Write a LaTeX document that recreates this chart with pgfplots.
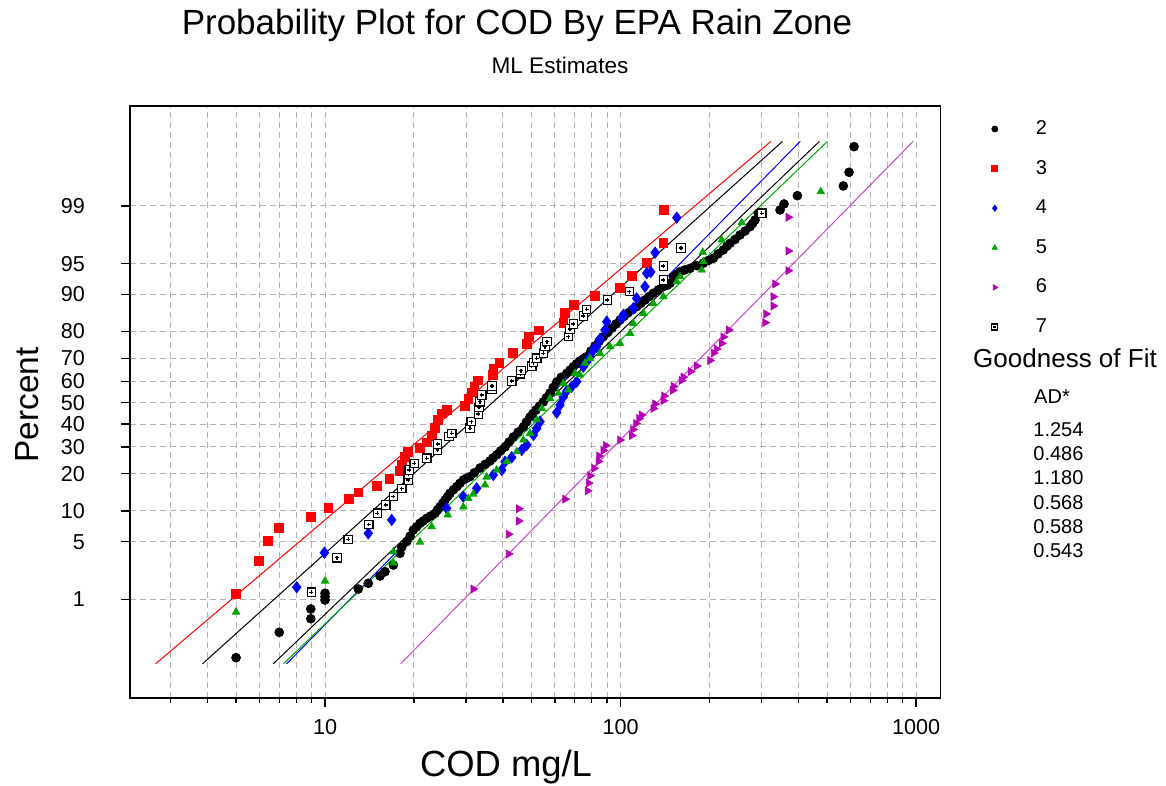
\documentclass[border=0pt]{standalone}
\usepackage{pgfplots}
\pgfplotsset{compat=1.18}
\usepackage{fontspec}
\setmainfont{Liberation Sans}
\usetikzlibrary{plotmarks}

\definecolor{zgreen}{RGB}{0,165,0}
\definecolor{zmag}{RGB}{180,0,180}
\definecolor{zmagl}{RGB}{200,70,200}
\definecolor{gridc}{RGB}{180,180,180}

\pgfdeclareplotmark{sqdot}{%
  \pgfpathrectangle{\pgfpoint{-\pgfplotmarksize}{-\pgfplotmarksize}}{\pgfpoint{2\pgfplotmarksize}{2\pgfplotmarksize}}%
  \pgfusepathqfillstroke
  \pgfpathmoveto{\pgfpoint{-0.45\pgfplotmarksize}{0pt}}\pgfpathlineto{\pgfpoint{0.45\pgfplotmarksize}{0pt}}%
  \pgfpathmoveto{\pgfpoint{0pt}{-0.45\pgfplotmarksize}}\pgfpathlineto{\pgfpoint{0pt}{0.45\pgfplotmarksize}}%
  \pgfusepathqstroke
}

\begin{document}
\begin{tikzpicture}
\path[use as bounding box] (0,0) rectangle (583pt,393pt);
\begin{axis}[
  at={(65pt,44pt)}, anchor=south west,
  scale only axis, width=405.35pt, height=296pt,
  xmode=log, xmin=2.188, xmax=1212,
  ymin=-3.494, ymax=3.509,
  xtick={10,100,1000}, xticklabels={10,100,1000},
  minor xtick={3,4,5,6,7,8,9,20,30,40,50,60,70,80,90,200,300,400,500,600,700,800,900},
  ytick={-2.3263,-1.6449,-1.2816,-0.8416,-0.5244,-0.2533,0,0.2533,0.5244,0.8416,1.2816,1.6449,2.3263},
  yticklabels={1,5,10,20,30,40,50,60,70,80,90,95,99},
  minor ytick={},
  tick align=outside, major tick length=4.5pt, minor tick length=2.5pt,
  xtick pos=bottom, ytick pos=left,
  xmajorgrids, xminorgrids, ymajorgrids,
  grid style={gridc, dash pattern=on 3pt off 2pt, line width=0.5pt},
  minor grid style={gridc, dash pattern=on 3pt off 2pt, line width=0.5pt},
  axis line style={black, line width=0.6pt},
  tick style={black, line width=0.6pt},
  /pgf/number format/assume math mode=true,
  tick label style={font=\fontsize{10.8}{12}\selectfont},
  yticklabel style={xshift=-14.5pt},
  xticklabel style={yshift=-2.5pt},
  clip=false,
  legend cell align=left,
  every legend image post/.append style={mark size=1.5pt},
  legend style={draw=none, fill=none, at={(1.063,0.9946)}, anchor=north west,
    inner sep=0pt, outer sep=0pt, row sep=0pt,
    font=\fontsize{10}{12}\selectfont,
    nodes={inner sep=0pt, minimum height=19.8pt},
    /tikz/every odd column/.append style={column sep=19pt}},
]
% Zone 2
\addplot[only marks, mark=*, mark size=2.2pt, mark options={draw=black, fill=black}] table {
x y
5.00 -3.017
7.0 -2.717
8.95 -2.556
8.95 -2.441
10.0 -2.335
10.0 -2.296
10.0 -2.255
12.96 -2.205
14.01 -2.137
15.35 -2.051
15.96 -2.000
17.03 -1.921
17.94 -1.782
18.18 -1.711
18.90 -1.645
19.4 -1.58
19.90 -1.507
20.4 -1.47
20.96 -1.427
21.5 -1.40
22.09 -1.368
22.8 -1.34
23.56 -1.309
24.0 -1.27
24.50 -1.231
25.0 -1.19
25.47 -1.152
26.0 -1.11
26.49 -1.072
27.2 -1.03
27.91 -0.994
28.6 -0.955
29.38 -0.915
30.1 -0.895
30.95 -0.876
32.0 -0.83
33.46 -0.773
34.8 -0.73
36.17 -0.690
37.0 -0.655
38.11 -0.619
39.3 -0.57
40.65 -0.525
42.0 -0.465
43.37 -0.406
45.0 -0.35
46.90 -0.288
48.0 -0.23
49.40 -0.170
50.5 -0.13
51.76 -0.087
53.2 -0.04
54.81 0.008
56.2 0.06
57.74 0.114
59.2 0.18
60.83 0.244
63.0 0.30
65.74 0.347
67.5 0.385
69.22 0.425
71.0 0.46
72.92 0.493
74.8 0.52
76.83 0.544
79.4 0.61
81.97 0.670
84.6 0.725
87.45 0.780
90.5 0.83
93.59 0.883
96.5 0.93
99.6 0.978
102.7 1.02
106.0 1.061
109.6 1.10
113.4 1.135
117.2 1.175
121.0 1.214
125.0 1.255
129.1 1.294
134.3 1.335
139.6 1.372
144.0 1.39
147.1 1.412
150.9 1.490
155.0 1.52
159.0 1.549
165.0 1.57
171.9 1.589
181.0 1.62
190.6 1.649
198.0 1.68
206.1 1.708
214.0 1.76
222.8 1.806
229.0 1.85
234.8 1.885
244.0 1.93
253.7 1.983
264.0 2.03
274.4 2.082
280.0 2.12
285.3 2.161
292.7 2.240
346.6 2.279
357.6 2.350
396.6 2.448
567.5 2.563
593.3 2.725
616.9 3.028
};
\addlegendentry{2}
% Zone 3
\addplot[only marks, mark=square*, mark size=2.2pt, mark options={draw=red, fill=red}] table {
x y
5.00 -2.264
5.99 -1.873
6.40 -1.640
7.0 -1.479
8.95 -1.349
10.26 -1.246
12.03 -1.143
12.96 -1.063
14.96 -0.986
16.51 -0.901
17.94 -0.809
18.18 -0.738
18.65 -0.643
19.09 -0.580
20.96 -0.531
22.06 -0.471
22.97 -0.395
23.56 -0.300
24.12 -0.205
24.79 -0.128
25.81 -0.087
29.77 -0.034
30.54 0.043
31.36 0.120
32.05 0.191
32.81 0.262
36.94 0.327
37.12 0.398
38.89 0.466
43.17 0.584
48.15 0.694
49.02 0.780
53.0 0.854
64.04 0.939
64.90 1.057
69.59 1.155
81.97 1.265
99.6 1.353
109.1 1.498
122.6 1.656
139.6 1.885
139.9 2.279
};
\addlegendentry{3}
% Zone 4
\addplot[only marks, mark=diamond*, mark size=2.8pt, mark options={draw=blue, fill=blue}] table {
x y
8.02 -2.184
9.95 -1.775
14.01 -1.546
16.82 -1.388
25.81 -1.250
29.38 -1.113
32.60 -1.013
37.12 -0.856
39.63 -0.797
40.65 -0.699
42.84 -0.647
46.31 -0.560
48.15 -0.501
50.70 -0.383
52.06 -0.303
53.42 -0.225
60.83 -0.117
62.42 -0.028
64.04 0.067
65.74 0.138
68.37 0.189
71.09 0.248
74.82 0.425
76.83 0.481
78.86 0.544
80.91 0.623
83.08 0.662
85.23 0.753
88.6 0.859
89.8 0.958
100.9 0.998
102.2 1.037
110.5 1.116
113.4 1.234
121.0 1.372
122.6 1.530
126.6 1.546
130.9 1.774
155.0 2.188
};
\addlegendentry{4}
% Zone 5
\addplot[only marks, mark=triangle*, mark size=2.1pt, mark options={draw=zgreen, fill=zgreen}] table {
x y
5.00 -2.477
10.0 -2.110
17.03 -1.897
17.03 -1.763
20.96 -1.649
22.97 -1.468
26.02 -1.329
29.38 -1.234
30.54 -1.132
31.76 -1.081
34.79 -0.974
35.25 -0.880
38.11 -0.797
41.20 -0.699
44.54 -0.580
46.90 -0.442
49.40 -0.363
52.06 -0.205
54.13 -0.067
57.74 0.051
61.59 0.111
64.04 0.229
66.58 0.150
70.15 0.347
72.92 0.327
75.83 0.466
78.86 0.525
85.23 0.584
92.15 0.662
99.6 0.702
107.7 0.820
110.5 0.939
119.5 1.057
129.1 1.175
139.6 1.253
155.0 1.431
159.0 1.490
188.3 1.569
190.6 1.667
189.8 1.779
220.0 1.924
257.1 2.129
475.9 2.496
};
\addlegendentry{5}
% Zone 6
\addplot[only marks, mark=triangle*, mark size=2.2pt, mark options={draw=zmag, fill=zmag, rotate=-90}] table {
x y
31.76 -2.205
41.78 -1.790
41.78 -1.557
45.24 -1.400
45.24 -1.255
64.90 -1.142
77.31 -1.043
77.92 -0.951
78.86 -0.864
81.35 -0.777
84.13 -0.696
84.57 -0.631
87.45 -0.566
88.97 -0.507
99.6 -0.442
109.1 -0.389
110.2 -0.318
112.8 -0.247
115.5 -0.188
117.8 -0.146
129.1 -0.069
130.9 -0.016
139.6 0.023
140.4 0.079
150.2 0.146
151.1 0.193
160.9 0.262
163.1 0.303
172.6 0.369
181.1 0.434
200.9 0.499
206.4 0.587
211.3 0.635
220.0 0.702
222.8 0.777
232.4 0.859
308.3 0.946
310.7 1.049
328.9 1.143
328.9 1.253
333.3 1.404
369.7 1.561
369.7 1.794
369.7 2.193
};
\addlegendentry{6}
% Zone 7
\addplot[only marks, mark=sqdot, mark size=2.1pt, mark options={draw=black, fill=white, line width=0.6pt}] table {
x y
8.99 -2.242
10.98 -1.835
11.98 -1.617
14.07 -1.442
15.03 -1.309
16.06 -1.211
17.03 -1.110
18.18 -1.018
19.13 -0.915
19.13 -0.850
19.28 -0.797
20.04 -0.718
22.09 -0.658
24.03 -0.560
24.05 -0.489
26.28 -0.400
26.84 -0.363
30.95 -0.303
31.24 -0.225
33.02 -0.134
33.20 -0.057
33.46 0.011
33.91 0.091
36.74 0.161
36.74 0.197
42.84 0.256
45.88 0.342
46.06 0.378
50.06 0.430
50.70 0.473
52.06 0.525
54.81 0.584
55.54 0.662
56.41 0.721
66.58 0.780
67.46 0.871
69.22 0.930
74.82 1.025
76.83 1.104
90.22 1.214
107.1 1.313
139.6 1.451
139.6 1.617
160.2 1.830
300.5 2.240
};
\addlegendentry{7}
% fitted lines
\addplot[red, line width=0.5pt, forget plot] coordinates {(2.67,-3.09) (322.8,3.09)};
\addplot[black, line width=0.5pt, forget plot] coordinates {(3.85,-3.09) (353.2,3.09)};
\addplot[blue, line width=0.5pt, forget plot] coordinates {(7.41,-3.09) (405.5,3.09)};
\addplot[black, line width=0.5pt, forget plot] coordinates {(6.68,-3.09) (471.0,3.09)};
\addplot[zgreen, line width=0.5pt, forget plot] coordinates {(7.23,-3.09) (501.2,3.09)};
\addplot[zmagl, line width=0.5pt, forget plot] coordinates {(18.03,-3.09) (977.2,3.09)};
\end{axis}
\node at (258.5pt,380.5pt) {\fontsize{17.5}{20}\selectfont Probability Plot for COD By EPA Rain Zone};
\node at (280pt,360.5pt) {\fontsize{11.3}{13}\selectfont ML Estimates};
\node[rotate=90] at (13.5pt,190.5pt) {\fontsize{16.7}{19}\selectfont Percent};
\node at (253pt,9.5pt) {\fontsize{18.2}{20}\selectfont COD mg/L};
\node at (532.5pt,214pt) {\fontsize{13}{15}\selectfont Goodness of Fit};
\node at (526pt,194.5pt) {\fontsize{10}{12}\selectfont AD*};
\begin{scope}[every node/.style={anchor=west, inner sep=0pt, font=\fontsize{10}{12}\selectfont}]
\node at (516.5pt,178pt) {1.254};
\node at (516.5pt,166pt) {0.486};
\node at (516.5pt,154pt) {1.180};
\node at (516.5pt,141.5pt) {0.568};
\node at (516.5pt,129.5pt) {0.588};
\node at (516.5pt,117.5pt) {0.543};
\end{scope}
\end{tikzpicture}
\end{document}
